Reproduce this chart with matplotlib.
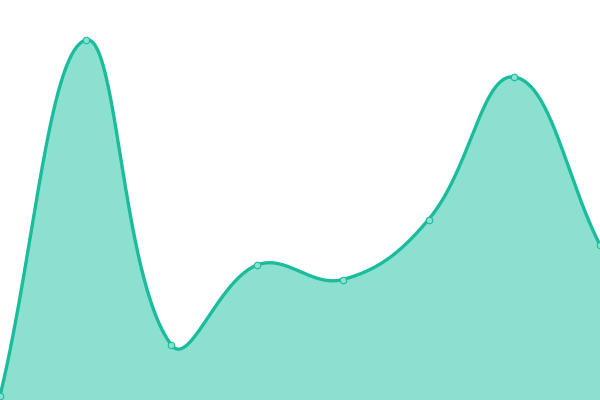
import numpy as np
import matplotlib
matplotlib.use("Agg")
import matplotlib.pyplot as plt

# values (y axis runs 0..400, x is the point index)
labels = ["p1", "p2", "p3", "p4", "p5", "p6", "p7", "p8"]
values = [4, 360, 55, 135, 120.5, 180.5, 323, 155]

LINE = "#1abc9c"
FILL = "#8be0cf"
TENSION = 0.4


def spline_controls(xs, ys, t):
    # Chart.js-style cardinal spline control points (pixel space)
    n = len(xs)
    c1 = []
    c2 = []
    for i in range(n):
        p0 = (xs[max(i - 1, 0)], ys[max(i - 1, 0)])
        p1 = (xs[i], ys[i])
        p2 = (xs[min(i + 1, n - 1)], ys[min(i + 1, n - 1)])
        d01 = np.hypot(p1[0] - p0[0], p1[1] - p0[1])
        d12 = np.hypot(p2[0] - p1[0], p2[1] - p1[1])
        s01 = d01 / (d01 + d12) if d01 + d12 else 0
        s12 = d12 / (d01 + d12) if d01 + d12 else 0
        fa, fb = t * s01, t * s12
        c1.append((p1[0] - fa * (p2[0] - p0[0]), p1[1] - fa * (p2[1] - p0[1])))
        c2.append((p1[0] + fb * (p2[0] - p0[0]), p1[1] + fb * (p2[1] - p0[1])))
    return c1, c2


fig = plt.figure(figsize=(6, 4), dpi=100)
ax = fig.add_axes([0, 0, 1, 1])
ax.set_xlim(0, 600)
ax.set_ylim(0, 400)
ax.axis("off")

# map index to x position across the full width
xs = np.linspace(0, 600, len(values))
ys = np.array(values, dtype=float)

c1, c2 = spline_controls(xs, ys, TENSION)
tt = np.linspace(0, 1, 60)
cx, cy = [], []
for i in range(len(xs) - 1):
    P0 = np.array([xs[i], ys[i]])
    P1 = np.array(c2[i])
    P2 = np.array(c1[i + 1])
    P3 = np.array([xs[i + 1], ys[i + 1]])
    pts = ((1 - tt) ** 3)[:, None] * P0 + (3 * (1 - tt) ** 2 * tt)[:, None] * P1 \
        + (3 * (1 - tt) * tt ** 2)[:, None] * P2 + (tt ** 3)[:, None] * P3
    cx.extend(pts[:, 0])
    cy.extend(pts[:, 1])

ax.fill_between(cx, cy, 0, color=FILL, linewidth=0, zorder=1)
ax.plot(cx, cy, color=LINE, linewidth=2.4, solid_capstyle="round", zorder=2)
ax.scatter(xs, ys, s=22, facecolor=FILL, edgecolor=LINE, linewidth=0.8, zorder=3, clip_on=True)

fig.savefig("out.png", dpi=100)
